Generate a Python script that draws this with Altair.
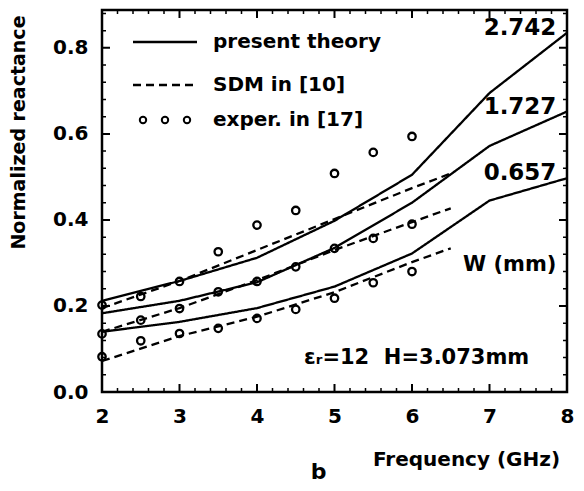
import altair as alt
import pandas as pd

# ---------------- data ----------------
W_values = ["2.742", "1.727", "0.657"]

freq_theory = [2, 3, 4, 5, 6, 7, 8]
theory_2742 = [0.212, 0.258, 0.312, 0.398, 0.505, 0.695, 0.835]
theory_1727 = [0.183, 0.212, 0.255, 0.335, 0.440, 0.572, 0.652]
theory_0657 = [0.140, 0.163, 0.195, 0.245, 0.322, 0.445, 0.497]

freq_sdm = [2, 3, 4, 5, 6, 6.5]
sdm_2742 = [0.195, 0.258, 0.330, 0.402, 0.474, 0.508]
sdm_1727 = [0.140, 0.195, 0.260, 0.330, 0.395, 0.427]
sdm_0657 = [0.072, 0.130, 0.175, 0.232, 0.302, 0.334]

freq_exp = [2, 2.5, 3, 3.5, 4, 4.5, 5, 5.5, 6]
exp_2742 = [0.202, 0.222, 0.257, 0.326, 0.388, 0.422, 0.508, 0.557, 0.594]
exp_1727 = [0.135, 0.167, 0.194, 0.233, 0.257, 0.291, 0.334, 0.357, 0.390]
exp_0657 = [0.082, 0.119, 0.136, 0.148, 0.171, 0.192, 0.218, 0.254, 0.280]

method_names = ["present theory", "SDM in [10]"]
exp_name = "exper. in [17]"

ann_text = ["W (mm)", "\u03b5\u1d63=12\u00a0 H=3.073mm"]
ann_x = [7.26, 6.06]
ann_y = [0.295, 0.079]

x_major = [2, 3, 4, 5, 6, 7, 8]
y_major = [0.0, 0.2, 0.4, 0.6, 0.8]
x_minor = [round(2 + 0.2 * i, 1) for i in range(31) if i % 5 != 0]
y_minor = [round(0.04 * i, 2) for i in range(23) if i % 5 != 0]

# ---------------- tables ----------------
rows = []
for w, ys in zip(W_values, [theory_2742, theory_1727, theory_0657]):
    for f, v in zip(freq_theory, ys):
        rows.append({"freq": f, "X": v, "W": w, "method": method_names[0]})
for w, ys in zip(W_values, [sdm_2742, sdm_1727, sdm_0657]):
    for f, v in zip(freq_sdm, ys):
        rows.append({"freq": f, "X": v, "W": w, "method": method_names[1]})
lines_df = pd.DataFrame(rows)

prow = []
for w, ys in zip(W_values, [exp_2742, exp_1727, exp_0657]):
    for f, v in zip(freq_exp, ys):
        prow.append({"freq": f, "X": v, "W": w, "kind": exp_name})
points_df = pd.DataFrame(prow)

labels_df = pd.DataFrame({
    "freq": [freq_theory[-1]] * 3,
    "X": [theory_2742[-1], theory_1727[-1], theory_0657[-1]],
    "W": W_values,
})
ann_df = pd.DataFrame({"text": ann_text, "freq": ann_x, "X": ann_y})

# ---------------- styling ----------------
FONT = "DejaVu Sans"
W_PX, H_PX = 465, 382
xs = alt.Scale(domain=[2, 8], nice=False, zero=False)
ys_ = alt.Scale(domain=[0, 0.888], nice=False, zero=False)
MAJ, MIN = 8, 4


def ends_dash(length, tick):
    # a full-length rule that is visible only `tick` px at both ends
    return [tick, length - 2 * tick, tick, 2000]


common_lab = dict(labelFont=FONT, labelFontSize=20, labelFontWeight="bold",
                  labelColor="black", labelPadding=14, labelFlush=False,
                  labelOverlap=False, ticks=False, tickSize=0, domain=False,
                  grid=False)

ax_x_main = alt.Axis(values=x_major, format="d",
                     title="Frequency  (GHz)", titleFont=FONT, titleFontSize=20,
                     titleFontWeight="bold", titleColor="black",
                     titleX=364, titleY=67, titleBaseline="middle",
                     titleAlign="center", **common_lab)
ax_y_main = alt.Axis(values=y_major, format=".1f",
                     title="Normalized reactance", titleFont=FONT,
                     titleFontSize=19, titleFontWeight="bold", titleColor="black",
                     titleX=-84, titleY=122, titleBaseline="middle",
                     titleAlign="center", titleAngle=270, **common_lab)


def x_ticks(values, size, width):
    return alt.Chart(pd.DataFrame({"v": values})).mark_rule(
        color="black", strokeWidth=width, strokeDash=ends_dash(H_PX, size)
    ).encode(x=alt.X("v:Q", scale=xs, axis=None),
             y=alt.value(0), y2=alt.value(H_PX))


def y_ticks(values, size, width):
    return alt.Chart(pd.DataFrame({"v": values})).mark_rule(
        color="black", strokeWidth=width, strokeDash=ends_dash(W_PX, size)
    ).encode(y=alt.Y("v:Q", scale=ys_, axis=None),
             x=alt.value(0), x2=alt.value(W_PX))


def circ(cx, r):
    return f"M {cx - r} 0 A {r} {r} 0 1 0 {cx + r} 0 A {r} {r} 0 1 0 {cx - r} 0 Z"


three_circles = " ".join(circ(c, 0.4) for c in (-2.75, 0, 2.75))

legend_common = dict(title=None, orient="none", legendX=53, symbolSize=256,
                     labelFont=FONT, labelFontSize=20, labelFontWeight="bold",
                     labelColor="black", labelOffset=38, labelLimit=0, padding=0)

lines = alt.Chart(lines_df).mark_line(color="black", strokeWidth=2.3).encode(
    x=alt.X("freq:Q", scale=xs, axis=ax_x_main),
    y=alt.Y("X:Q", scale=ys_, axis=ax_y_main),
    strokeDash=alt.StrokeDash(
        "method:N",
        scale=alt.Scale(domain=method_names, range=[[1, 0], [8, 5]]),
        legend=alt.Legend(legendY=22, symbolType="M -4 0 L 4 0",
                          symbolStrokeWidth=2.5, symbolStrokeColor="black",
                          rowPadding=23, **legend_common),
    ),
    detail="W:N",
)

points = alt.Chart(points_df).mark_point(
    shape="circle", filled=False, size=55, strokeWidth=2.3, opacity=1
).encode(
    x=alt.X("freq:Q", scale=xs, axis=None),
    y=alt.Y("X:Q", scale=ys_, axis=None),
    color=alt.Color(
        "kind:N", scale=alt.Scale(range=["black"]),
        legend=alt.Legend(legendY=100, symbolType=three_circles,
                          symbolStrokeWidth=2, **legend_common),
    ),
    detail="W:N",
)

wlabels = alt.Chart(labels_df).mark_text(
    font=FONT, fontSize=23, fontWeight="bold", color="black",
    align="center", baseline="middle", dx=-47, dy=-5
).encode(
    x=alt.X("freq:Q", scale=xs, axis=None),
    y=alt.Y("X:Q", scale=ys_, axis=None),
    text="W:N",
)

ann = alt.Chart(ann_df).mark_text(
    font=FONT, fontSize=21, fontWeight="bold", color="black",
    align="center", baseline="middle"
).encode(
    x=alt.X("freq:Q", scale=xs, axis=None),
    y=alt.Y("X:Q", scale=ys_, axis=None),
    text="text:N",
)

chart = alt.layer(
    lines,
    x_ticks(x_major, MAJ, 2), x_ticks(x_minor, MIN, 1.5),
    y_ticks(y_major, MAJ, 2), y_ticks(y_minor, MIN, 1.5),
    points, wlabels, ann,
).resolve_axis(
    x="independent", y="independent"
).properties(
    width=W_PX, height=H_PX,
    padding={"left": 94, "top": 2, "right": 9, "bottom": 91},
    autosize=alt.AutoSizeParams(type="none"),
    title=alt.TitleParams("b", orient="bottom", anchor="middle", frame="group",
                          font=FONT, fontSize=22, fontWeight="bold",
                          color="black", offset=-7, dx=-16),
).configure_view(stroke="black", strokeWidth=2.5)

chart.save("out.html", embed_options={"renderer": "svg", "actions": False})
